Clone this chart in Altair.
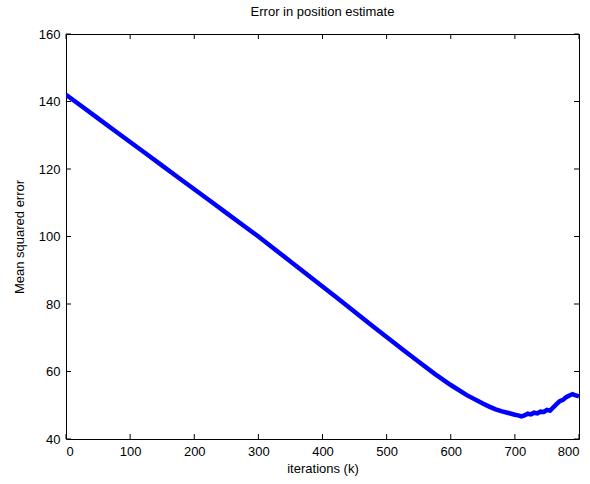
import altair as alt
import pandas as pd

iters = [0, 25, 50, 75, 100, 125, 150, 175, 200, 225, 250, 275, 300, 325, 350, 375,
         400, 425, 450, 475, 500, 525, 550, 575, 600, 625, 650, 660, 670, 680, 690,
         700, 705, 710, 715, 720, 725, 730, 735, 740, 745, 750, 755, 760, 765, 770,
         775, 780, 785, 790, 795, 800]
mse = [142.0, 138.5, 135.0, 131.5, 128.0, 124.5, 121.0, 117.5, 114.0, 110.5, 107.0,
       103.5, 100.0, 96.3, 92.6, 88.9, 85.2, 81.5, 77.7, 73.9, 70.2, 66.5, 62.9, 59.3,
       56.0, 53.0, 50.5, 49.6, 48.8, 48.2, 47.7, 47.2, 47.0, 46.7, 47.0, 47.5, 47.3,
       47.8, 47.6, 48.1, 48.0, 48.6, 48.4, 49.4, 50.3, 51.2, 51.6, 52.4, 52.9, 53.3,
       52.9, 52.6]
x_ticks = [0, 100, 200, 300, 400, 500, 600, 700, 800]
y_ticks = [40, 60, 80, 100, 120, 140, 160]

W, H = 513, 405
FONT = "Liberation Sans"

df = pd.DataFrame({"it": iters, "mse": mse})
xt = pd.DataFrame({"v": x_ticks})
yt = pd.DataFrame({"v": y_ticks})

xs = alt.Scale(domain=[0, 800], nice=False, zero=False)
ys = alt.Scale(domain=[40, 160], nice=False, zero=False)

line = alt.Chart(df).mark_line(color="#0000ff", strokeWidth=4.5, clip=True).encode(
    x=alt.X("it:Q", scale=xs, title="iterations (k)",
            axis=alt.Axis(values=x_ticks, tickSize=0, domain=False, grid=False,
                          labelPadding=6, titlePadding=4)),
    y=alt.Y("mse:Q", scale=ys, title="Mean squared error",
            axis=alt.Axis(values=y_ticks, tickSize=0, domain=False, grid=False,
                          labelPadding=6, titlePadding=12)),
)

tick_style = dict(color="black", strokeWidth=1)
bx = alt.Chart(xt).mark_rule(**tick_style).encode(
    x=alt.X("v:Q", scale=xs), y=alt.value(H), y2=alt.value(H - 5))
tx = alt.Chart(xt).mark_rule(**tick_style).encode(
    x=alt.X("v:Q", scale=xs), y=alt.value(0), y2=alt.value(5))
ly = alt.Chart(yt).mark_rule(**tick_style).encode(
    y=alt.Y("v:Q", scale=ys), x=alt.value(0), x2=alt.value(5))
ry = alt.Chart(yt).mark_rule(**tick_style).encode(
    y=alt.Y("v:Q", scale=ys), x=alt.value(W - 5), x2=alt.value(W))

chart = alt.layer(line, bx, tx, ly, ry).properties(
    width=W, height=H,
    title=alt.TitleParams("Error in position estimate", fontSize=13, font=FONT,
                          fontWeight="normal", color="#000000", offset=9),
    autosize=alt.AutoSizeParams(type="none"),
    padding={"left": 66, "top": 34, "right": 11, "bottom": 45},
    background="white",
).configure_view(stroke="black", strokeWidth=1).configure_axis(
    labelFont=FONT, titleFont=FONT, labelFontSize=13, titleFontSize=13,
    labelColor="#000000", titleColor="#000000", titleFontWeight="normal",
)

chart.save("out.html", embed_options={"renderer": "svg", "actions": False})
